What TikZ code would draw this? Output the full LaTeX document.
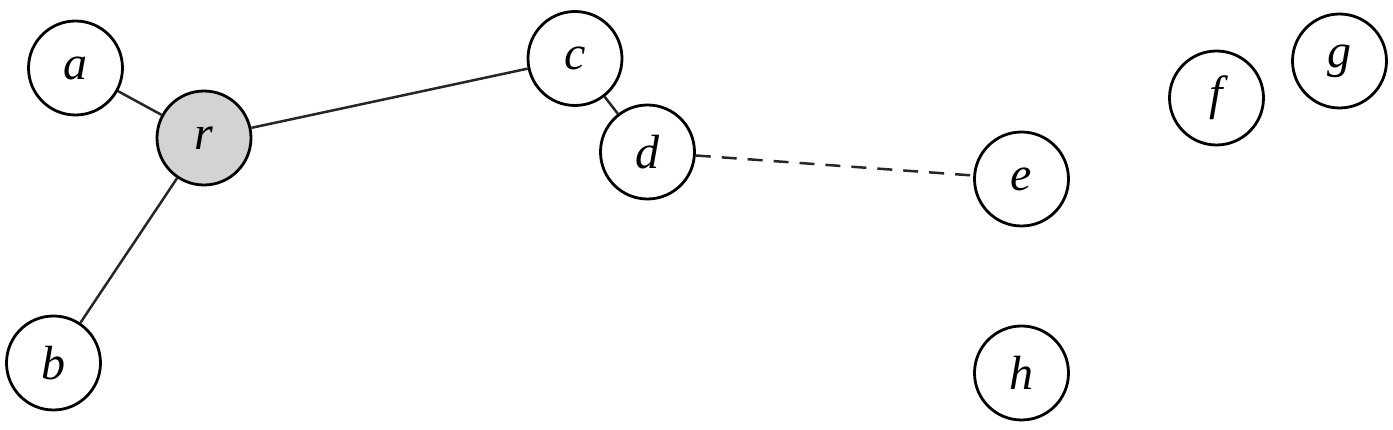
\documentclass[tikz,border=0pt]{standalone}
\usepackage{fontspec}
\setmainfont{Liberation Serif}
\begin{document}
\begin{tikzpicture}[x=1pt,y=1pt,
  vtx/.style={circle,draw=black,line width=2.8pt,minimum size=94pt,inner sep=0pt,fill=white,
    font=\fontsize{48}{58}\selectfont\itshape},
  root/.style={vtx,fill=rootgray},
  edge/.style={line width=2.5pt,draw=black!85},
  dedge/.style={edge,dash pattern=on 15pt off 11pt}]
\definecolor{rootgray}{RGB}{209,211,212}
\useasboundingbox (0,0) rectangle (1393,430);
\node[vtx] (a) at (75.5,362) {a};
\node[root] (r) at (204,292) {r};
\node[vtx] (c) at (575,371.5) {c};
\node[vtx] (d) at (647.5,278) {d};
\node[vtx] (e) at (1021.5,251) {e};
\node[vtx] (f) at (1216.5,332) {f};
\node[vtx] (g) at (1339.5,369) {g};
\node[vtx] (b) at (53.5,67) {b};
\node[vtx] (h) at (1021.5,57) {h};
\draw[edge] (a) -- (r);
\draw[edge] (r) -- (c);
\draw[edge] (r) -- (b);
\draw[edge] (c) -- (d);
\draw[dedge] (d) -- (e);
\end{tikzpicture}
\end{document}
